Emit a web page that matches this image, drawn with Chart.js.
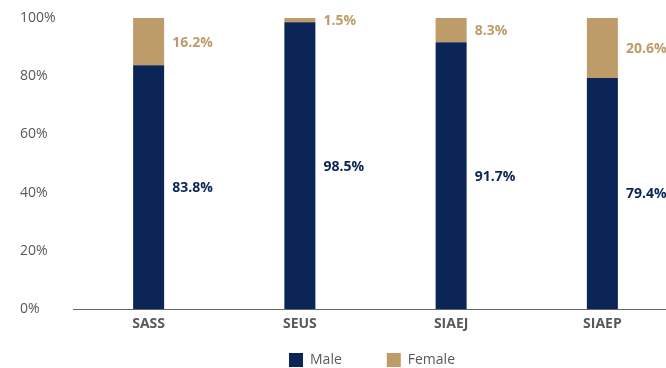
<!DOCTYPE html>
<html>
<head>
<meta charset="utf-8">
<script src="https://cdn.jsdelivr.net/npm/chart.js@4/dist/chart.umd.min.js"></script>
<style>
  html, body { margin: 0; padding: 0; background: #fff; overflow: hidden; }
  #wrap { width: 750px; height: 377px; }
</style>
</head>
<body>
<div id="wrap"><canvas id="c" width="750" height="377"></canvas></div>
<script>
const categories = ['SASS', 'SEUS', 'SIAEJ', 'SIAEP'];
const maleShare = [83.8, 98.5, 91.7, 79.4];
const femaleShare = [16.2, 1.5, 8.3, 20.6];
const yTicks = [0, 20, 40, 60, 80, 100];

const NAVY = '#0b2556';
const TAN = '#bd9c6a';
const GREY = '#595959';
const FONT = '"Open Sans", Lato, sans-serif';

// Percent labels drawn to the right of each stacked segment
const segmentLabels = {
  id: 'segmentLabels',
  afterDatasetsDraw(chart) {
    const ctx = chart.ctx;
    ctx.save();
    ctx.font = 'bold 14px ' + FONT;
    ctx.textBaseline = 'middle';
    ctx.textAlign = 'left';
    chart.data.datasets.forEach((ds, di) => {
      const meta = chart.getDatasetMeta(di);
      meta.data.forEach((bar, i) => {
        const p = bar.getProps(['x', 'y', 'base', 'width'], true);
        ctx.fillStyle = ds.labelColor;
        ctx.fillText(ds.data[i].toFixed(1) + '%', p.x + p.width / 2 + 8, (p.y + p.base) / 2 + 1);
      });
    });
    ctx.restore();
  }
};

new Chart(document.getElementById('c'), {
  type: 'bar',
  data: {
    labels: categories,
    datasets: [
      { label: 'Male', data: maleShare, backgroundColor: NAVY, labelColor: NAVY,
        categoryPercentage: 1, barPercentage: 0.205 },
      { label: 'Female', data: femaleShare, backgroundColor: TAN, labelColor: TAN,
        categoryPercentage: 1, barPercentage: 0.205 }
    ]
  },
  options: {
    responsive: false,
    animation: false,
    layout: { padding: { left: 20, right: 26, top: 18, bottom: 0 } },
    plugins: {
      tooltip: { enabled: false },
      legend: {
        position: 'bottom',
        labels: {
          boxWidth: 14, boxHeight: 14, padding: 10,
          color: GREY, font: { family: FONT, size: 14 },
          generateLabels(chart) {
            return chart.data.datasets.map((ds, i) => ({
              text: i === 0 ? ds.label + '\u2003\u2003\u2002' : ds.label,
              fillStyle: ds.backgroundColor,
              strokeStyle: ds.backgroundColor,
              lineWidth: 0,
              fontColor: GREY,
              hidden: false,
              datasetIndex: i
            }));
          }
        }
      }
    },
    scales: {
      x: {
        stacked: true,
        afterFit(scale) { scale.height = 34; },
        grid: { display: false, drawTicks: false },
        border: { display: true, color: '#666666', width: 1 },
        ticks: { color: GREY, padding: 7, font: { family: FONT, size: 14, weight: 'bold' } }
      },
      y: {
        stacked: true,
        min: 0, max: 100,
        afterFit(scale) { scale.width = 53; },
        afterBuildTicks(scale) { scale.ticks = yTicks.map(v => ({ value: v })); },
        grid: { display: false, drawTicks: false },
        border: { display: false },
        ticks: {
          crossAlign: 'far', padding: 0,
          color: GREY, font: { family: FONT, size: 14 },
          callback: v => v + '%'
        }
      },
      // empty right-hand gutter that keeps the plot wider than the page
      gutter: {
        position: 'right',
        display: true,
        afterFit(scale) { scale.width = 46; },
        grid: { display: false, drawTicks: false },
        border: { display: false },
        ticks: { display: false }
      }
    }
  },
  plugins: [segmentLabels]
});
</script>
</body>
</html>
